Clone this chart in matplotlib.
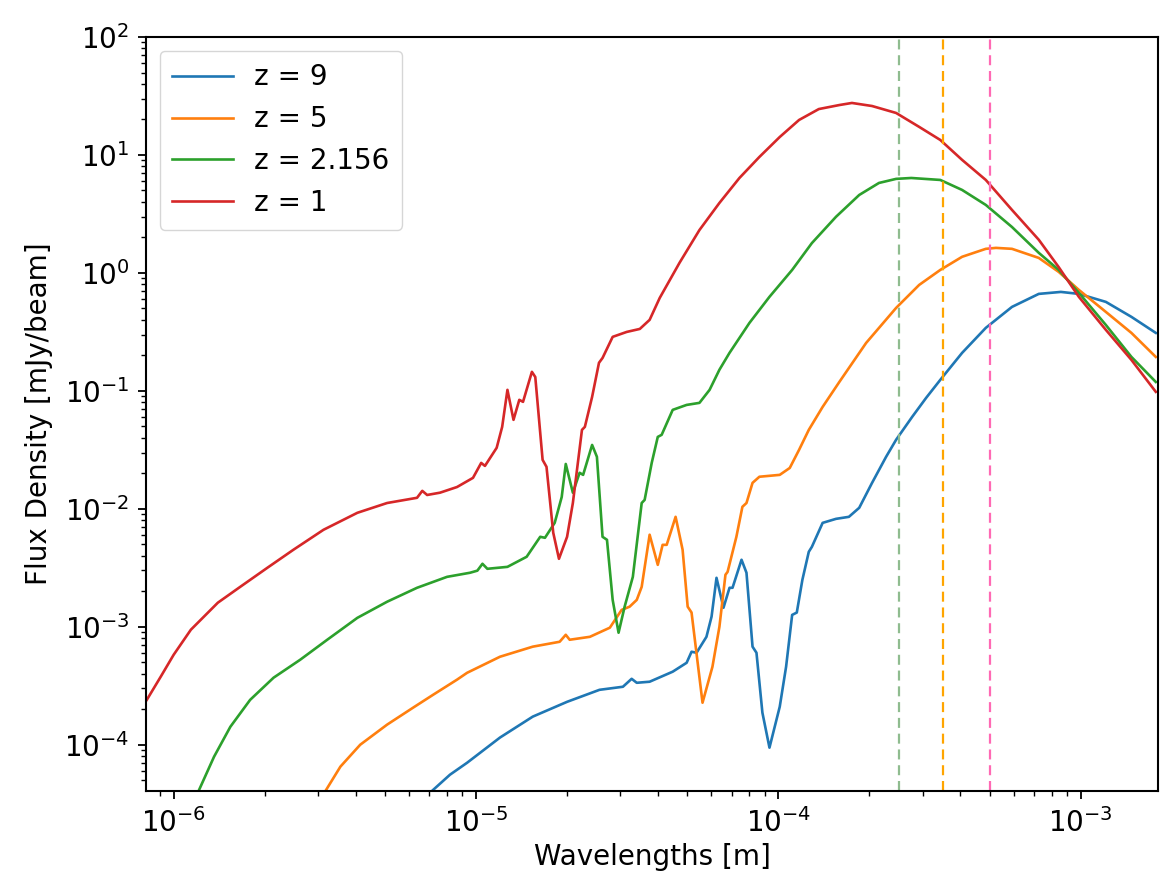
import matplotlib
matplotlib.use("Agg")
import matplotlib.pyplot as plt

# ---- data ----
wl_z9 = [7.16e-6, 8.20e-6, 9.34e-6, 1.20e-5, 1.54e-5, 2.00e-5, 2.56e-5, 3.06e-5, 3.27e-5, 3.40e-5,
         3.75e-5, 4.47e-5, 4.97e-5, 5.16e-5, 5.36e-5, 5.78e-5, 6.01e-5, 6.24e-5, 6.58e-5, 6.89e-5,
         7.05e-5, 7.55e-5, 7.84e-5, 8.21e-5, 8.46e-5, 8.85e-5, 9.34e-5, 1.01e-4, 1.06e-4, 1.11e-4,
         1.15e-4, 1.20e-4, 1.26e-4, 1.29e-4, 1.40e-4, 1.55e-4, 1.71e-4, 1.85e-4, 2.04e-4, 2.27e-4,
         2.45e-4, 2.77e-4, 3.08e-4, 3.43e-4, 4.05e-4, 4.85e-4, 5.92e-4, 7.26e-4, 8.59e-4, 9.85e-4,
         1.21e-3, 1.47e-3, 1.77e-3]
fx_z9 = [4.07e-5, 5.57e-5, 7.03e-5, 1.15e-4, 1.73e-4, 2.31e-4, 2.92e-4, 3.10e-4, 3.62e-4, 3.35e-4,
         3.42e-4, 4.16e-4, 4.95e-4, 6.14e-4, 6.02e-4, 8.22e-4, 1.22e-3, 2.60e-3, 1.45e-3, 2.14e-3,
         2.14e-3, 3.70e-3, 2.87e-3, 6.78e-4, 6.02e-4, 1.87e-4, 9.44e-5, 2.10e-4, 4.58e-4, 1.26e-3,
         1.32e-3, 2.50e-3, 4.32e-3, 4.76e-3, 7.60e-3, 8.22e-3, 8.55e-3, 1.02e-2, 1.66e-2, 2.76e-2,
         3.85e-2, 6.03e-2, 8.73e-2, 0.124, 0.210, 0.342, 0.515, 0.664, 0.690, 0.664,
         0.568, 0.424, 0.310]

wl_z5 = [3.18e-6, 3.56e-6, 4.14e-6, 5.08e-6, 6.19e-6, 7.21e-6, 8.65e-6, 9.34e-6, 1.20e-5, 1.54e-5,
         1.89e-5, 1.98e-5, 2.04e-5, 2.38e-5, 2.77e-5, 3.03e-5, 3.22e-5, 3.40e-5, 3.53e-5, 3.75e-5,
         3.99e-5, 4.14e-5, 4.27e-5, 4.57e-5, 4.82e-5, 5.01e-5, 5.16e-5, 5.61e-5, 6.05e-5, 6.38e-5,
         6.68e-5, 6.79e-5, 7.26e-5, 7.60e-5, 7.84e-5, 8.21e-5, 8.65e-5, 1.01e-4, 1.09e-4, 1.17e-4,
         1.26e-4, 1.40e-4, 1.59e-4, 1.95e-4, 2.45e-4, 2.92e-4, 3.43e-4, 4.05e-4, 4.85e-4, 5.24e-4,
         5.92e-4, 7.26e-4, 8.45e-4, 9.85e-4, 1.21e-3, 1.47e-3, 1.77e-3]
fx_z5 = [4.07e-5, 6.52e-5, 1.00e-4, 1.48e-4, 2.06e-4, 2.65e-4, 3.56e-4, 4.07e-4, 5.57e-4, 6.78e-4,
         7.46e-4, 8.55e-4, 7.76e-4, 8.22e-4, 9.82e-4, 1.39e-3, 1.48e-3, 1.69e-3, 2.18e-3, 6.03e-3,
         3.35e-3, 4.95e-3, 4.95e-3, 8.55e-3, 4.50e-3, 1.48e-3, 1.32e-3, 2.27e-4, 4.58e-4, 1.00e-3,
         2.76e-3, 2.92e-3, 5.79e-3, 1.04e-2, 1.12e-2, 1.66e-2, 1.87e-2, 1.94e-2, 2.22e-2, 3.16e-2,
         4.67e-2, 7.31e-2, 0.119, 0.255, 0.505, 0.791, 1.06, 1.37, 1.60, 1.63,
         1.60, 1.34, 1.02, 0.718, 0.467, 0.310, 0.194]

wl_z2 = [1.21e-6, 1.36e-6, 1.54e-6, 1.79e-6, 2.14e-6, 2.62e-6, 3.22e-6, 4.05e-6, 5.08e-6, 6.38e-6,
         8.02e-6, 9.55e-6, 1.01e-5, 1.05e-5, 1.09e-5, 1.27e-5, 1.47e-5, 1.63e-5, 1.69e-5, 1.82e-5,
         1.92e-5, 1.98e-5, 2.09e-5, 2.20e-5, 2.26e-5, 2.42e-5, 2.51e-5, 2.62e-5, 2.71e-5, 2.83e-5,
         2.96e-5, 3.10e-5, 3.30e-5, 3.53e-5, 3.61e-5, 3.81e-5, 3.99e-5, 4.11e-5, 4.47e-5, 4.97e-5,
         5.48e-5, 5.92e-5, 6.38e-5, 6.89e-5, 8.02e-5, 9.34e-5, 1.11e-4, 1.29e-4, 1.55e-4, 1.85e-4,
         2.15e-4, 2.45e-4, 2.75e-4, 3.43e-4, 4.05e-4, 4.85e-4, 5.92e-4, 7.26e-4, 8.45e-4, 9.85e-4,
         1.21e-3, 1.47e-3, 1.77e-3]
fx_z2 = [4.07e-5, 7.91e-5, 1.42e-4, 2.40e-4, 3.70e-4, 5.25e-4, 7.76e-4, 1.19e-3, 1.63e-3, 2.14e-3,
         2.65e-3, 2.87e-3, 2.99e-3, 3.42e-3, 3.10e-3, 3.22e-3, 3.92e-3, 5.79e-3, 5.68e-3, 7.60e-3,
         1.26e-2, 2.40e-2, 1.37e-2, 2.02e-2, 1.94e-2, 3.48e-2, 2.76e-2, 5.79e-3, 5.46e-3, 1.69e-3,
         8.90e-4, 1.48e-3, 2.65e-3, 1.12e-2, 1.19e-2, 2.45e-2, 4.07e-2, 4.24e-2, 6.90e-2, 7.60e-2,
         7.91e-2, 0.102, 0.151, 0.210, 0.377, 0.627, 1.06, 1.79, 2.99, 4.58,
         5.79, 6.27, 6.38, 6.14, 5.05, 3.77, 2.45, 1.48, 1.06, 0.678,
         0.362, 0.194, 0.119]

wl_z1 = [8.15e-7, 9.06e-7, 1.00e-6, 1.14e-6, 1.40e-6, 1.66e-6, 2.04e-6, 2.49e-6, 3.13e-6, 4.05e-6,
         5.08e-6, 6.38e-6, 6.64e-6, 6.89e-6, 7.60e-6, 8.65e-6, 9.77e-6, 1.04e-5, 1.07e-5, 1.17e-5,
         1.22e-5, 1.27e-5, 1.33e-5, 1.39e-5, 1.43e-5, 1.53e-5, 1.57e-5, 1.66e-5, 1.71e-5, 1.80e-5,
         1.88e-5, 2.00e-5, 2.09e-5, 2.24e-5, 2.29e-5, 2.42e-5, 2.55e-5, 2.62e-5, 2.83e-5, 3.15e-5,
         3.48e-5, 3.75e-5, 4.05e-5, 4.71e-5, 5.48e-5, 6.38e-5, 7.43e-5, 8.65e-5, 1.01e-4, 1.17e-4,
         1.36e-4, 1.59e-4, 1.75e-4, 2.04e-4, 2.45e-4, 2.92e-4, 3.43e-4, 4.05e-4, 4.85e-4, 5.92e-4,
         7.26e-4, 8.45e-4, 9.85e-4, 1.21e-3, 1.47e-3, 1.77e-3]
fx_z1 = [2.40e-4, 3.77e-4, 5.79e-4, 9.44e-4, 1.60e-3, 2.18e-3, 3.16e-3, 4.50e-3, 6.64e-3, 9.25e-3,
         1.12e-2, 1.24e-2, 1.42e-2, 1.31e-2, 1.37e-2, 1.53e-2, 1.83e-2, 2.45e-2, 2.31e-2, 3.29e-2,
         4.95e-2, 0.102, 5.68e-2, 8.39e-2, 8.07e-2, 0.145, 0.131, 2.60e-2, 2.27e-2, 6.27e-3,
         3.77e-3, 5.79e-3, 1.12e-2, 4.67e-2, 4.95e-2, 8.89e-2, 0.173, 0.190, 0.287, 0.316,
         0.335, 0.400, 0.614, 1.22, 2.31, 3.92, 6.38, 9.62, 14.2, 19.8,
         24.5, 26.5, 27.6, 26.0, 22.7, 17.3, 13.4, 9.08, 6.14, 3.42,
         1.91, 1.12, 0.627, 0.329, 0.183, 0.0981]

labels = ["z = 9", "z = 5", "z = 2.156", "z = 1"]
vlines = [2.5e-4, 3.5e-4, 5.0e-4]
vline_colors = ["darkseagreen", "orange", "hotpink"]

# ---- plot ----
plt.rcParams["font.family"] = ["DejaVu Sans"]
plt.rcParams["font.size"] = 20

fig = plt.figure(figsize=(11.67, 8.94), dpi=100)
ax = fig.add_axes([0.1251, 0.1152, 0.9923 - 0.1251, 0.9586 - 0.1152])

series = [(wl_z9, fx_z9), (wl_z5, fx_z5), (wl_z2, fx_z2), (wl_z1, fx_z1)]
colors = ["#1f77b4", "#ff7f0e", "#2ca02c", "#d62728"]
for (w, f), lab, c in zip(series, labels, colors):
    ax.plot(w, f, color=c, lw=1.9, label=lab)

for xv, c in zip(vlines, vline_colors):
    ax.axvline(xv, color=c, ls="--", lw=1.6, dashes=(4.5, 2.6))

ax.set_xscale("log")
ax.set_yscale("log")
ax.set_xlim(8.1e-7, 1.8e-3)
ax.set_ylim(4.05e-5, 1e2)

ax.set_xlabel("Wavelengths [m]", fontsize=20, labelpad=4)
ax.set_ylabel("Flux Density [mJy/beam]", fontsize=20, labelpad=8)
ax.tick_params(axis="both", which="major", labelsize=20, length=6, width=1.3, pad=6)
ax.tick_params(axis="both", which="minor", length=3.3, width=1.0)
for s in ax.spines.values():
    s.set_linewidth(1.5)

ax.legend(loc="upper left", fontsize=20, handlelength=2.2, borderpad=0.45,
          labelspacing=0.5, handletextpad=0.75)

fig.savefig("out.png", dpi=100)
